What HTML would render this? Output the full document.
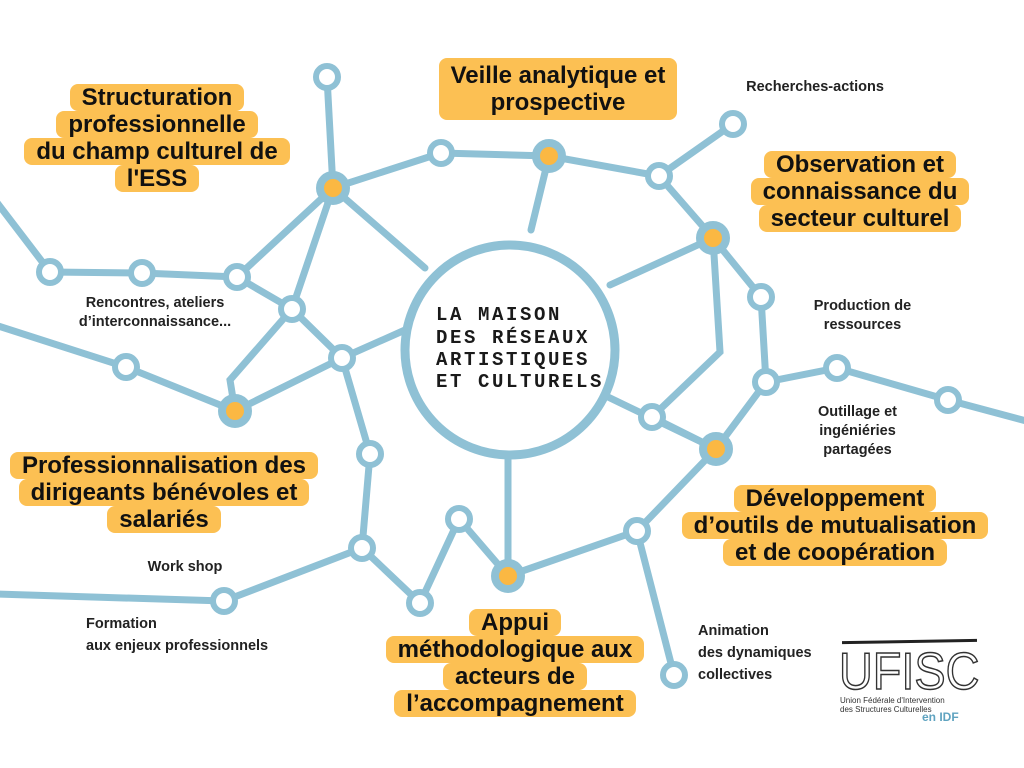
<!DOCTYPE html>
<html><head><meta charset="utf-8"><style>
body{margin:0;background:#fff;width:1024px;height:768px;overflow:hidden;position:relative;font-family:"Liberation Sans",sans-serif}
.g{position:absolute;text-align:center;font-weight:bold;font-size:24px;line-height:27px;color:#111}
.g span{display:inline-block;background:#fcc053;padding:2px 12px;line-height:23px;vertical-align:top;border-radius:8px}
.s{position:absolute;font-weight:bold;font-size:14.5px;line-height:22px;color:#222;text-align:center}
</style></head><body>
<svg width="1024" height="768" style="position:absolute;left:0;top:0">
<g stroke="#8fc1d5" stroke-width="7" fill="none" stroke-linecap="round">
<polyline points="327,77 333,188 441,153 549,156 659,176 733,124"/>
<polyline points="659,176 713,238 761,297 766,382 837,368 948,400 1030,422"/>
<line x1="549" y1="156" x2="531" y2="230"/>
<line x1="713" y1="238" x2="610" y2="285"/>
<polyline points="713,238 720,352 652,417 716,449 766,382"/>
<line x1="608" y1="397" x2="716" y2="449"/>
<polyline points="716,449 637,531 674,675"/>
<polyline points="637,531 508,576 508,452"/>
<polyline points="508,576 459,519 420,603 362,548 370,454 342,358 405,330"/>
<polyline points="362,548 224,601 -5,594"/>
<polyline points="342,358 235,411 230,380 292,309 333,188 237,277 292,309 342,358"/>
<polyline points="237,277 142,273 50,272 -5,200"/>
<polyline points="235,411 126,367 -5,325"/>
<line x1="333" y1="188" x2="425" y2="268"/>
</g>
<circle cx="510" cy="350" r="105" fill="#fff" stroke="#8fc1d5" stroke-width="9"/>
<g fill="#fff" stroke="#8fc1d5" stroke-width="6">
<circle cx="327" cy="77" r="11"/><circle cx="441" cy="153" r="11"/><circle cx="659" cy="176" r="11"/><circle cx="733" cy="124" r="11"/><circle cx="761" cy="297" r="11"/><circle cx="766" cy="382" r="11"/><circle cx="837" cy="368" r="11"/><circle cx="948" cy="400" r="11"/><circle cx="652" cy="417" r="11"/><circle cx="637" cy="531" r="11"/><circle cx="674" cy="675" r="11"/><circle cx="459" cy="519" r="11"/><circle cx="420" cy="603" r="11"/><circle cx="362" cy="548" r="11"/><circle cx="370" cy="454" r="11"/><circle cx="342" cy="358" r="11"/><circle cx="292" cy="309" r="11"/><circle cx="237" cy="277" r="11"/><circle cx="142" cy="273" r="11"/><circle cx="50" cy="272" r="11"/><circle cx="126" cy="367" r="11"/><circle cx="224" cy="601" r="11"/>
</g>
<g fill="#fbb843" stroke="#8fc1d5" stroke-width="8">
<circle cx="333" cy="188" r="13"/><circle cx="549" cy="156" r="13"/><circle cx="713" cy="238" r="13"/><circle cx="716" cy="449" r="13"/><circle cx="508" cy="576" r="13"/><circle cx="235" cy="411" r="13"/>
</g>
<g font-family="Liberation Mono,monospace" font-weight="bold" font-size="19" fill="#1a1a1a" letter-spacing="2.6">
<text x="436" y="320">LA MAISON</text>
<text x="436" y="343">DES RÉSEAUX</text>
<text x="436" y="365">ARTISTIQUES</text>
<text x="436" y="387">ET CULTURELS</text>
</g>
</svg>
<div class="g" style="left:0;top:84px;width:314px"><span>Structuration</span><br><span>professionnelle</span><br><span>du champ culturel de</span><br><span>l'ESS</span></div>
<div class="g" style="left:400px;top:58px;width:316px"><span style="padding:4px 12px;line-height:27px">Veille analytique et<br>prospective</span></div>
<div class="g" style="left:735px;top:151px;width:250px"><span>Observation et</span><br><span>connaissance du</span><br><span>secteur culturel</span></div>
<div class="g" style="left:0;top:452px;width:328px"><span>Professionnalisation des</span><br><span>dirigeants bénévoles et</span><br><span>salariés</span></div>
<div class="g" style="left:660px;top:485px;width:350px"><span>Développement</span><br><span>d’outils de mutualisation</span><br><span>et de coopération</span></div>
<div class="g" style="left:370px;top:609px;width:290px"><span>Appui</span><br><span>méthodologique aux</span><br><span>acteurs de</span><br><span>l’accompagnement</span></div>
<div class="s" style="left:700px;top:76px;width:230px">Recherches-actions</div>
<div class="s" style="left:50px;top:294px;width:210px;line-height:19px">Rencontres, ateliers d’interconnaissance...</div>
<div class="s" style="left:790px;top:297px;width:145px;line-height:19px">Production de ressources</div>
<div class="s" style="left:790px;top:403px;width:135px;line-height:19px">Outillage et ingéniéries partagées</div>
<div class="s" style="left:120px;top:556px;width:130px">Work shop</div>
<div class="s" style="left:86px;top:613px;text-align:left">Formation<br>aux enjeux professionnels</div>
<div class="s" style="left:698px;top:620px;text-align:left">Animation<br>des dynamiques<br>collectives</div>
<div style="position:absolute;left:836px;top:640px;width:140px;height:80px">
<div style="position:absolute;left:3px;top:6px;font-size:52px;line-height:52px;color:#fff;-webkit-text-stroke:1.5px #333;transform:scaleX(0.9);transform-origin:left">UFISC</div>
<div style="position:absolute;left:6px;top:0;width:135px;border-top:3px solid #222;transform:rotate(-1deg)"></div>
<div style="position:absolute;left:4px;top:56px;font-size:8px;line-height:9px;color:#333;white-space:nowrap">Union Fédérale d'Intervention<br>des Structures Culturelles</div>
<div style="position:absolute;left:86px;top:70px;font-size:12px;font-weight:bold;color:#5fa3c0">en IDF</div>
</div>
</body></html>
